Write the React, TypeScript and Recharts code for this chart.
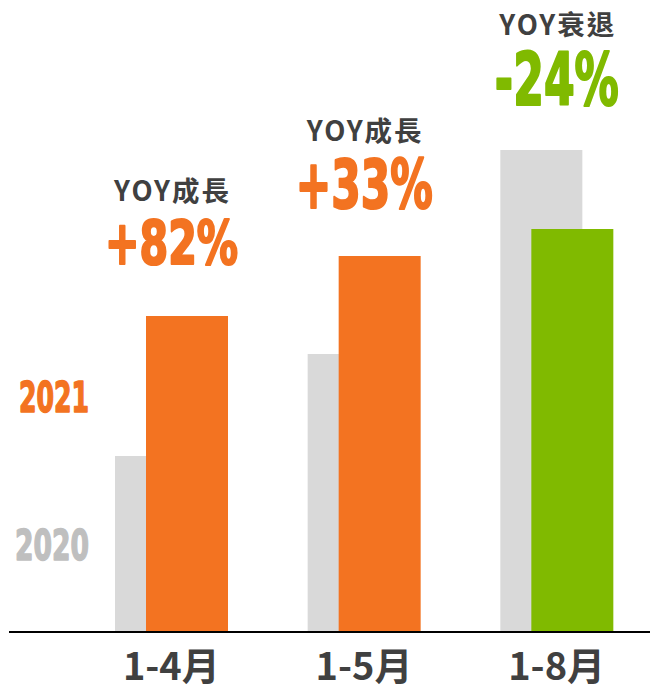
import React from 'react';
import { BarChart, Bar, XAxis, YAxis, Cell, LabelList, Legend } from 'recharts';

const categories = ['1-4月', '1-5月', '1-8月'];
const series2020 = [176, 278, 482];
const series2021 = [316, 376, 403];
const yoyTitles = ['YOY成長', 'YOY成長', 'YOY衰退'];
const yoyLabels = ['+82%', '+33%', '-24%'];
const seriesNames = ['2020', '2021'];

const data = categories.map((c, i) => ({
  name: c,
  y2020: series2020[i],
  y2021: series2021[i],
}));

const ORANGE = '#F37321';
const GREEN = '#80BA00';
const GRAY = '#D9D9D9';
const GRAY_TEXT = '#BFBFBF';
const DARK = '#404040';
const BAR_SIZE = 82;
const BAR_GAP = -51;
const NARROW = "'Liberation Sans Narrow', 'DejaVu Sans Condensed', 'Arial Narrow', sans-serif";
const CJK = "'Noto Sans CJK TC', 'Noto Sans', sans-serif";

const pctSizes = [60, 67, 73];
const pctWidths = [135, 139, 126];

const colorFor = (i: number) => (series2021[i] < series2020[i] ? GREEN : ORANGE);

const CategoryTick = (props: any) => {
  const { x, y, payload } = props;
  return (
    <text x={x} y={y} dy={40} textAnchor="middle" fill={DARK} fontFamily={CJK} fontWeight={700} fontSize={38}>
      {payload.value}
    </text>
  );
};

const renderYoy = (props: any) => {
  const vb = props.viewBox || {};
  const x = props.x ?? vb.x;
  const y = props.y ?? vb.y;
  const width = props.width ?? vb.width;
  const height = props.height ?? vb.height;
  const index = props.index;
  const value = series2021[index];
  const baseline = y + height;
  const ppu = height / value;
  const maxVal = Math.max(series2020[index], series2021[index]);
  const top = baseline - maxVal * ppu;
  const cx = x + width / 2 - (BAR_SIZE + BAR_GAP) / 2;
  const size = pctSizes[index];
  const color = colorFor(index);
  return (
    <g key={`yoy-${index}`}>
      <text x={cx + 1} y={top - 115} textAnchor="middle" fill={DARK} fontFamily={CJK} fontWeight={700} fontSize={27.5} letterSpacing={2}>
        {yoyTitles[index]}
      </text>
      <text
        x={cx}
        y={top - (85 - 0.55 * size)}
        textAnchor="middle"
        fill={color}
        stroke={color}
        strokeWidth={2.2}
        strokeLinejoin="round"
        fontFamily={NARROW}
        fontWeight={700}
        fontSize={size}
        textLength={pctWidths[index] - 2}
        lengthAdjust="spacingAndGlyphs"
      >
        {yoyLabels[index]}
      </text>
    </g>
  );
};

const legendPos: Record<string, { y: number; color: string; w: number }> = {
  '2021': { y: 412, color: ORANGE, w: 70 },
  '2020': { y: 560, color: GRAY_TEXT, w: 74 },
};

const LegendContent = () => (
  <svg width={120} height={600} style={{ display: 'block' }}>
    {seriesNames.map((n) => (
      <text
        key={n}
        x={89}
        y={legendPos[n].y}
        textAnchor="end"
        fill={legendPos[n].color}
        stroke={legendPos[n].color}
        strokeWidth={1.5}
        strokeLinejoin="round"
        fontFamily={NARROW}
        fontWeight={700}
        fontSize={42}
        textLength={legendPos[n].w}
        lengthAdjust="spacingAndGlyphs"
      >
        {n}
      </text>
    ))}
  </svg>
);

export default function App() {
  return (
    <div style={{ position: 'absolute', left: 0, top: 0, width: 652, height: 686, background: '#fff' }}>
      <BarChart
        width={652}
        height={686}
        data={data}
        margin={{ top: 32, right: 2, left: 9, bottom: 0 }}
        barGap={BAR_GAP}
        barSize={BAR_SIZE}
      >
        <XAxis
          dataKey="name"
          height={54}
          padding={{ left: 66, right: -3 }}
          axisLine={{ stroke: '#000', strokeWidth: 2 }}
          tickLine={false}
          tick={<CategoryTick />}
          interval={0}
        />
        <YAxis hide domain={[0, 600]} />
        <Legend
          layout="horizontal"
          verticalAlign="middle"
          align="center"
          content={<LegendContent />}
          wrapperStyle={{ left: 0, top: 0, width: 120, height: 600 }}
        />
        <Bar dataKey="y2020" name="2020" fill={GRAY} isAnimationActive={false} />
        <Bar dataKey="y2021" name="2021" fill={ORANGE} isAnimationActive={false}>
          {data.map((d, i) => (
            <Cell key={d.name} fill={colorFor(i)} />
          ))}
          <LabelList dataKey="y2021" content={renderYoy} />
        </Bar>
      </BarChart>
    </div>
  );
}
